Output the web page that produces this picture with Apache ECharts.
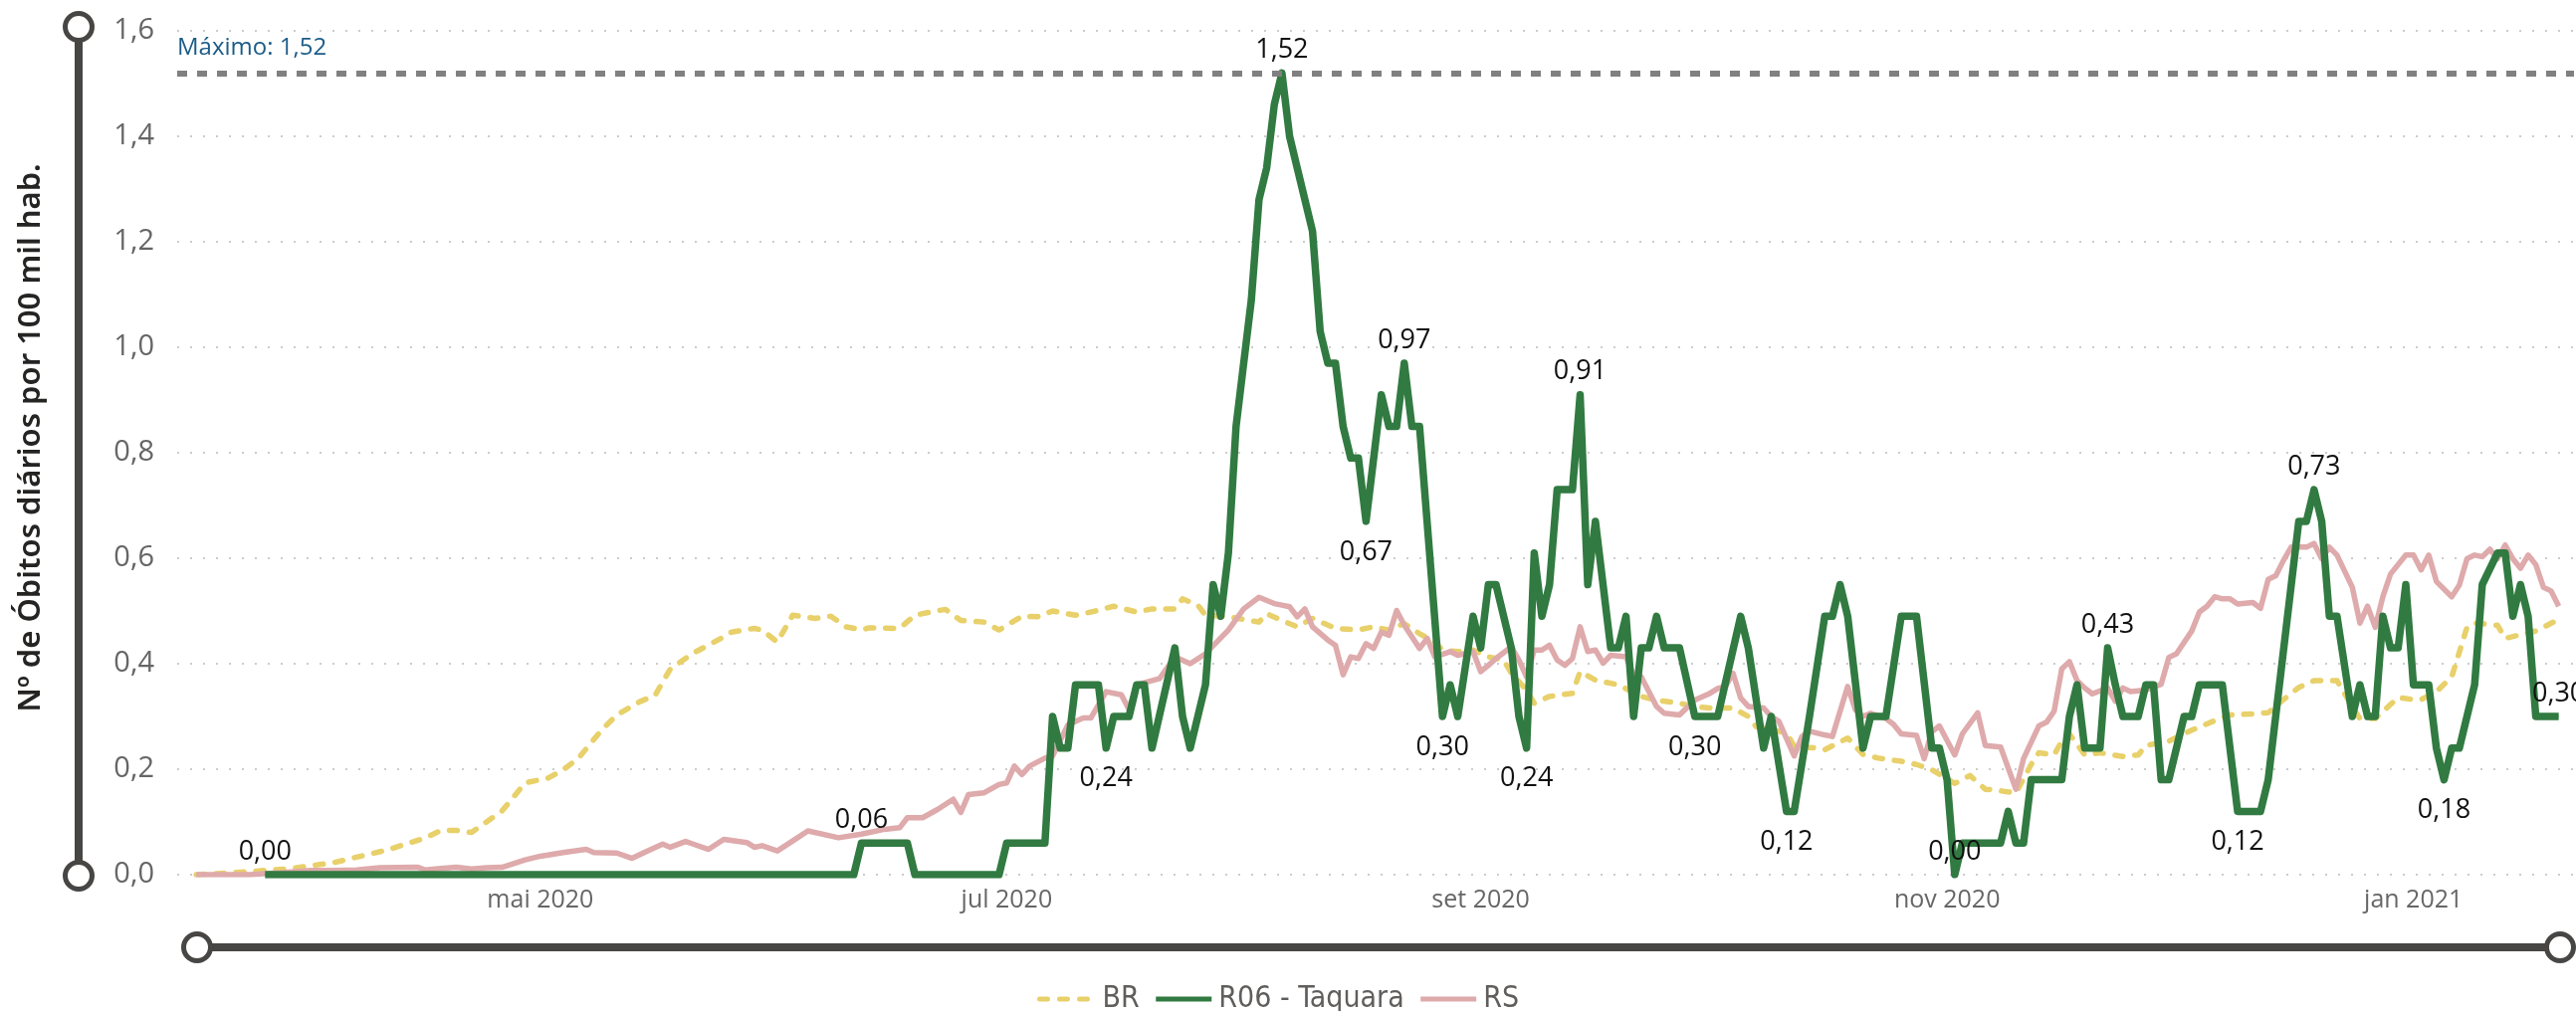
<!DOCTYPE html>
<html><head><meta charset="utf-8">
<script src="https://cdn.jsdelivr.net/npm/echarts@6/dist/echarts.min.js"></script>
<style>html,body{margin:0;padding:0;background:#fff}#c{width:2588px;height:1016px}</style>
</head><body><div id="c"></div>
<script>
// x values are days counted from 2020-05-01 (day 0)
const xTickDays = [0, 61, 123, 184, 245];
const xTickLabels = ['mai 2020', 'jul 2020', 'set 2020', 'nov 2020', 'jan 2021'];
const yTicks = [0, 0.2, 0.4, 0.6, 0.8, 1.0, 1.2, 1.4, 1.6];
const seriesNames = ['BR', 'R06 - Taquara', 'RS'];

const brPoints = [[-45,0],[-40,0.004],[-33,0.011],[-27,0.023],[-20,0.047],[-15,0.07],[-13,0.084],[-11,0.084],[-9,0.08],[-5,0.121],[-2,0.174],[1,0.183],[3,0.199],[5,0.221],[8,0.274],[10,0.303],[13,0.328],[15,0.34],[17,0.39],[20,0.42],[24,0.451],[25,0.46],[28,0.467],[29,0.464],[31,0.441],[33,0.492],[36,0.486],[38,0.49],[40,0.47],[42,0.464],[43,0.468],[47,0.467],[49,0.492],[51,0.498],[53,0.503],[55,0.482],[58,0.479],[60,0.464],[63,0.49],[65,0.489],[67,0.5],[70,0.492],[72,0.498],[75,0.509],[78,0.498],[80,0.504],[83,0.504],[84,0.523],[86,0.511],[87,0.492],[90,0.489],[94,0.479],[95,0.495],[97,0.482],[99,0.47],[101,0.486],[104,0.467],[107,0.464],[109,0.47],[111,0.464],[113,0.476],[115,0.457],[117,0.441],[118,0.426],[120,0.423],[122,0.426],[124,0.413],[126,0.407],[127,0.382],[129,0.35],[130,0.325],[132,0.338],[135,0.344],[136,0.385],[138,0.369],[141,0.36],[144,0.338],[146,0.331],[149,0.325],[151,0.319],[153,0.316],[156,0.316],[158,0.3],[159,0.281],[161,0.275],[163,0.269],[164,0.243],[167,0.24],[168,0.237],[171,0.259],[173,0.228],[175,0.221],[178,0.215],[180,0.209],[182,0.199],[185,0.173],[187,0.188],[189,0.162],[191,0.159],[193,0.155],[195,0.209],[196,0.231],[198,0.227],[199,0.253],[200,0.267],[202,0.227],[204,0.231],[207,0.224],[209,0.227],[210,0.245],[213,0.253],[216,0.274],[219,0.292],[221,0.303],[224,0.305],[226,0.307],[228,0.332],[230,0.355],[232,0.368],[235,0.368],[237,0.318],[238,0.296],[240,0.296],[243,0.336],[245,0.332],[246,0.332],[248,0.347],[250,0.375],[252,0.469],[253,0.477],[256,0.473],[257,0.448],[259,0.455],[261,0.462],[264,0.484]];

const rsPoints = [[-45,0],[-38,0],[-34,0.004],[-30,0.008],[-27,0.008],[-24,0.009],[-21,0.013],[-16,0.014],[-15,0.009],[-13,0.012],[-11,0.014],[-9,0.011],[-7,0.013],[-5,0.014],[-2,0.028],[0,0.035],[3,0.042],[6,0.048],[7,0.042],[10,0.041],[12,0.031],[14,0.045],[16,0.058],[17,0.052],[19,0.063],[20,0.058],[22,0.048],[24,0.067],[27,0.061],[28,0.052],[29,0.055],[31,0.045],[33,0.064],[35,0.083],[39,0.07],[42,0.077],[45,0.086],[47,0.089],[48,0.108],[50,0.108],[52,0.124],[54,0.143],[55,0.118],[56,0.152],[58,0.155],[60,0.171],[61,0.174],[62,0.206],[63,0.19],[64,0.206],[66,0.221],[67,0.225],[69,0.284],[71,0.297],[72,0.297],[74,0.347],[76,0.341],[77,0.313],[78,0.36],[79,0.364],[81,0.372],[83,0.413],[85,0.4],[87,0.419],[90,0.464],[92,0.504],[94,0.526],[96,0.514],[97,0.511],[98,0.508],[99,0.489],[100,0.504],[101,0.47],[103,0.445],[104,0.435],[105,0.379],[106,0.413],[107,0.41],[108,0.438],[109,0.429],[110,0.46],[111,0.454],[112,0.501],[113,0.473],[115,0.429],[116,0.448],[117,0.413],[119,0.423],[120,0.416],[122,0.423],[123,0.385],[124,0.397],[125,0.41],[127,0.432],[128,0.407],[129,0.375],[130,0.426],[131,0.426],[132,0.435],[133,0.407],[134,0.397],[135,0.41],[136,0.47],[137,0.423],[138,0.426],[139,0.401],[140,0.416],[142,0.413],[143,0.379],[144,0.375],[145,0.347],[146,0.319],[147,0.306],[149,0.303],[151,0.331],[153,0.344],[154,0.353],[155,0.357],[156,0.382],[157,0.335],[158,0.319],[160,0.316],[161,0.3],[162,0.291],[164,0.225],[165,0.262],[166,0.272],[168,0.265],[169,0.262],[171,0.357],[172,0.313],[173,0.3],[174,0.306],[176,0.296],[177,0.285],[178,0.267],[180,0.264],[181,0.22],[182,0.271],[183,0.282],[185,0.227],[186,0.267],[188,0.307],[189,0.245],[191,0.242],[193,0.162],[194,0.22],[196,0.282],[197,0.289],[198,0.31],[199,0.39],[200,0.404],[201,0.368],[202,0.354],[203,0.343],[205,0.354],[206,0.329],[207,0.354],[208,0.347],[210,0.35],[212,0.361],[213,0.412],[214,0.419],[216,0.462],[217,0.498],[218,0.509],[219,0.527],[220,0.523],[221,0.523],[222,0.513],[224,0.516],[225,0.505],[226,0.56],[227,0.567],[228,0.596],[229,0.621],[231,0.621],[232,0.628],[233,0.599],[234,0.621],[235,0.606],[237,0.545],[238,0.477],[239,0.509],[240,0.469],[241,0.527],[242,0.57],[244,0.606],[245,0.606],[246,0.578],[247,0.606],[248,0.556],[250,0.527],[251,0.549],[252,0.599],[253,0.606],[254,0.603],[255,0.617],[256,0.599],[257,0.625],[258,0.599],[259,0.581],[260,0.606],[261,0.588],[262,0.545],[263,0.538],[264,0.509]];

const taquaraPoints = [[-36,0],[41,0],[42,0.06],[48,0.06],[49,0],[60,0],[61,0.06],[66,0.06],[67,0.30],[68,0.24],[69,0.24],[70,0.36],[73,0.36],[74,0.24],[75,0.30],[77,0.30],[78,0.36],[79,0.36],[80,0.24],[83,0.43],[84,0.30],[85,0.24],[87,0.36],[88,0.55],[89,0.49],[90,0.61],[91,0.85],[92,0.97],[93,1.09],[94,1.28],[95,1.34],[96,1.46],[97,1.52],[98,1.40],[99,1.34],[100,1.28],[101,1.22],[102,1.03],[103,0.97],[104,0.97],[105,0.85],[106,0.79],[107,0.79],[108,0.67],[110,0.91],[111,0.85],[112,0.85],[113,0.97],[114,0.85],[115,0.85],[118,0.30],[119,0.36],[120,0.30],[122,0.49],[123,0.43],[124,0.55],[125,0.55],[127,0.43],[128,0.30],[129,0.24],[130,0.61],[131,0.49],[132,0.55],[133,0.73],[135,0.73],[136,0.91],[137,0.55],[138,0.67],[140,0.43],[141,0.43],[142,0.49],[143,0.30],[144,0.43],[145,0.43],[146,0.49],[147,0.43],[149,0.43],[151,0.30],[154,0.30],[157,0.49],[158,0.43],[160,0.24],[161,0.30],[163,0.12],[164,0.12],[166,0.30],[168,0.49],[169,0.49],[170,0.55],[171,0.49],[173,0.24],[174,0.30],[176,0.30],[178,0.49],[180,0.49],[182,0.24],[183,0.24],[184,0.18],[185,0],[186,0.06],[191,0.06],[192,0.12],[193,0.06],[194,0.06],[195,0.18],[199,0.18],[200,0.30],[201,0.36],[202,0.24],[204,0.24],[205,0.43],[206,0.36],[207,0.30],[209,0.30],[210,0.36],[211,0.36],[212,0.18],[213,0.18],[215,0.30],[216,0.30],[217,0.36],[220,0.36],[222,0.12],[225,0.12],[226,0.18],[230,0.67],[231,0.67],[232,0.73],[233,0.67],[234,0.49],[235,0.49],[237,0.30],[238,0.36],[239,0.30],[240,0.30],[241,0.49],[242,0.43],[243,0.43],[244,0.55],[245,0.36],[247,0.36],[248,0.24],[249,0.18],[250,0.24],[251,0.24],[253,0.36],[254,0.55],[256,0.61],[257,0.61],[258,0.49],[259,0.55],[260,0.49],[261,0.30],[264,0.30]];

const labelDays = [-36, 42, 74, 97, 108, 113, 118, 129, 136, 151, 163, 185, 205, 222, 232, 249, 264];
const labelSides = ['top','top','bottom','top','bottom','top','bottom','bottom','top','bottom','bottom','top','top','bottom','top','bottom','top'];

const fmt = (v, d) => v.toFixed(d).replace('.', ',');
const maxVal = Math.max(...taquaraPoints.map(p => p[1]));

const taquaraData = taquaraPoints.map(p => {
  const i = labelDays.indexOf(p[0]);
  if (i < 0) return { value: p };
  return { value: p, label: { show: true, position: labelSides[i], distance: labelSides[i] === 'top' ? 9 : 17 } };
});

const GREEN = '#317A41', PINK = '#DEAAAB', YELLOW = '#E8D06A';
const SLIDER = '#474644';
const FONT = '"Open Sans", "Noto Sans", sans-serif';
const NARROW = '"Liberation Sans Narrow", "DejaVu Sans Condensed", "Noto Sans", sans-serif';
const chart = echarts.init(document.getElementById('c'), null, { renderer: 'canvas' });
chart.setOption({
  animation: false,
  backgroundColor: '#ffffff',
  grid: { left: 178, right: 2, top: 31, bottom: 137, containLabel: false },
  xAxis: {
    type: 'value', min: -47.5, max: 266,
    axisLine: { show: false }, axisTick: { show: false }, splitLine: { show: false },
    axisLabel: {
      customValues: xTickDays,
      formatter: v => xTickLabels[xTickDays.indexOf(Math.round(v))] || '',
      color: '#666666', fontSize: 25, fontFamily: FONT, margin: 13
    }
  },
  yAxis: {
    type: 'value', min: yTicks[0], max: yTicks[yTicks.length - 1], interval: 0.2,
    name: 'Nº de Óbitos diários por 100 mil hab.',
    nameLocation: 'middle', nameGap: 131, nameRotate: 90,
    nameTextStyle: { fontSize: 31, fontWeight: 600, color: '#252423', fontFamily: '"Noto Sans", sans-serif', padding: [0, 0, 0, 30] },
    axisLine: { show: false }, axisTick: { show: false },
    axisLabel: { formatter: v => fmt(v, 1), color: '#666666', fontSize: 29, fontFamily: FONT, margin: 23 },
    splitLine: { show: true, lineStyle: { color: '#cccccc', width: 2, type: [2, 11] } }
  },
  legend: {
    data: seriesNames, left: 1037, top: 984, itemWidth: 56, itemHeight: 8, itemGap: 14,
    itemStyle: { opacity: 0 },
    lineStyle: { width: 5 },
    textStyle: { fontSize: 30, color: '#605E5C', fontFamily: NARROW, padding: [0, 0, 0, 2] }
  },
  series: [
    { name: 'BR', type: 'line', data: brPoints, symbol: 'none', z: 2,
      lineStyle: { color: YELLOW, width: 5.5, type: [8, 12], cap: 'round', join: 'round' },
      itemStyle: { color: YELLOW } },
    { name: 'RS', type: 'line', data: rsPoints, symbol: 'none', z: 3,
      lineStyle: { color: PINK, width: 5.5, join: 'round' }, itemStyle: { color: PINK } },
    { name: 'R06 - Taquara', type: 'line', data: taquaraData, symbol: 'circle', symbolSize: 1,
      showSymbol: true, showAllSymbol: true, z: 4,
      lineStyle: { color: GREEN, width: 7.5, join: 'round' }, itemStyle: { color: GREEN },
      label: { show: false, formatter: p => fmt(p.value[1], 2), color: '#111111', fontSize: 27, fontFamily: FONT },
      labelLayout: { hideOverlap: false },
      markLine: {
        silent: true, symbol: ['none', 'none'], animation: false,
        data: [{ yAxis: maxVal }],
        lineStyle: { color: '#808080', width: 6, type: [10, 10] },
        label: { position: 'insideStartTop', formatter: 'Máximo: ' + fmt(maxVal, 2), color: '#1B5C88', fontSize: 24, fontFamily: FONT, distance: 13, offset: [-13, 0] }
      } }
  ],
  graphic: [
    { type: 'line', shape: { x1: 79, y1: 30, x2: 79, y2: 880 }, style: { stroke: SLIDER, lineWidth: 8 }, z: 1 },
    { type: 'circle', shape: { cx: 79, cy: 27, r: 13.5 }, style: { fill: '#fff', stroke: SLIDER, lineWidth: 5 }, z: 2 },
    { type: 'circle', shape: { cx: 79, cy: 880, r: 13.5 }, style: { fill: '#fff', stroke: SLIDER, lineWidth: 5 }, z: 2 },
    { type: 'line', shape: { x1: 198, y1: 952, x2: 2572, y2: 952 }, style: { stroke: SLIDER, lineWidth: 8 }, z: 1 },
    { type: 'circle', shape: { cx: 198, cy: 952, r: 13.5 }, style: { fill: '#fff', stroke: SLIDER, lineWidth: 5 }, z: 2 },
    { type: 'circle', shape: { cx: 2572, cy: 952, r: 13.5 }, style: { fill: '#fff', stroke: SLIDER, lineWidth: 5 }, z: 2 }
  ]
});
</script></body></html>
